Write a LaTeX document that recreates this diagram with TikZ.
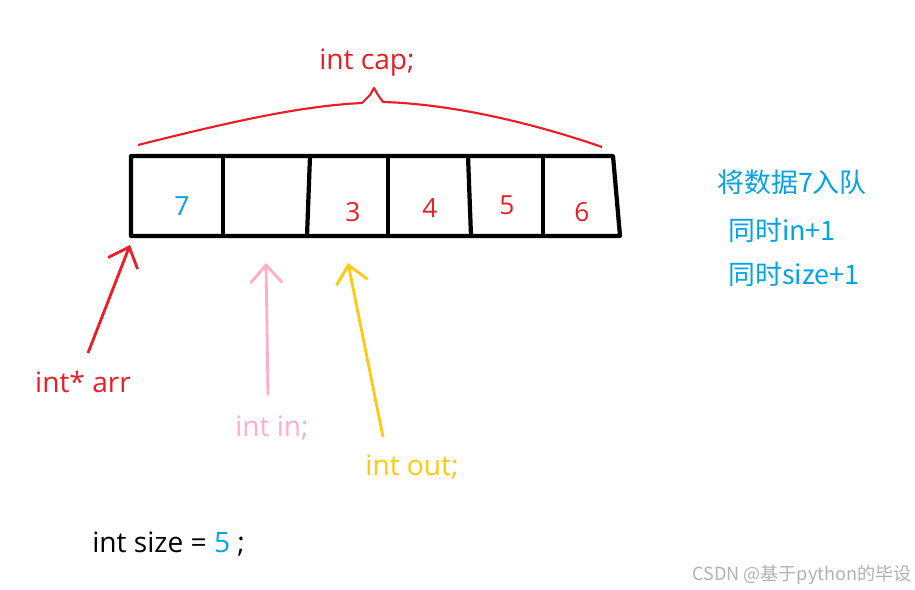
\documentclass[tikz,border=0pt]{standalone}
\usepackage{fontspec}
\setmainfont{Open Sans}
\newfontfamily\cjk{Noto Sans CJK SC}
\usetikzlibrary{arrows.meta}
\definecolor{paintred}{HTML}{ED1C24}
\definecolor{paintblue}{HTML}{00A2E8}
\definecolor{paintpink}{HTML}{FFAEC9}
\definecolor{paintyellow}{HTML}{FFC90E}
\begin{document}
\begin{tikzpicture}
[x=0.02cm,y=-0.02cm,
  cellline/.style={line width=2.4pt,line cap=round,line join=round},%
  pointer/.style={line width=1.6pt,-{Straight Barb[length=10pt,width=18pt,line width=1.6pt]}},%
  digit/.style={font=\fontsize{15}{18}\selectfont,inner sep=0pt},%
  label/.style={font=\fontsize{16}{19}\selectfont,inner sep=0pt},%
  note/.style={font=\cjk\fontsize{15.3}{18}\selectfont,text=paintblue,inner sep=0pt,anchor=west}]
\useasboundingbox (0,0) rectangle (915,590);
%% the array cells
\draw[cellline] (131,156) -- (613,156) -- (620,236) -- (131,236) -- cycle;
\foreach \xt/\xb in {223/223, 310/307, 388/388, 468/471, 543/543} {
  \draw[cellline] (\xt,156) -- (\xb,236);
}
%% values in the cells
\node[digit,text=paintblue] (v1) at (182,206) {7};
\foreach \name/\x/\y/\val in {v3/353/212/3, v4/430/208/4, v5/507/205/5, v6/582/212/6} {
  \node[digit,text=paintred] (\name) at (\x,\y) {\val};
}
%% capacity brace
\node[label,text=paintred] (cap) at (367,63) {int cap;};
\draw[paintred,line width=1.2pt,line join=round]
  (138,145) .. controls (230,122) and (300,106) .. (362,103)
  -- (370,95) -- (374,88) -- (378,95) -- (383,102)
  .. controls (450,104) and (530,122) .. (602,147);
%% pointers
\coordinate (arrtail) at (88,353);
\coordinate (arrtip) at (130,245);
\coordinate (intail) at (268,395);
\coordinate (intip) at (266,263);
\coordinate (outtail) at (383,437);
\coordinate (outtip) at (348,263);
\draw[pointer,paintred] (arrtail) -- (arrtip);
\draw[pointer,paintpink] (intail) -- (intip);
\draw[pointer,paintyellow] (outtail) -- (outtip);
\node[label,text=paintred] (arr) at (83,382) {int* arr};
\node[label,text=paintpink] (in) at (272,428) {int in;};
\node[label,text=paintyellow] (out) at (412,467) {int out;};
%% size
\node[label,anchor=west] (size) at (92,544) {int size = \textcolor{paintblue}{5} ;};
%% notes
\node[note] (n1) at (717,182) {将数据7入队};
\node[note] (n2) at (728,230) {同时in+1};
\node[note] (n3) at (728,274) {同时size+1};
%% watermark
\node[font=\cjk\fontsize{10.3}{12}\selectfont,text=black!30,anchor=east,inner sep=0pt] (mark) at (912,575) {CSDN @基于python的毕设};
\end{tikzpicture}
\end{document}
